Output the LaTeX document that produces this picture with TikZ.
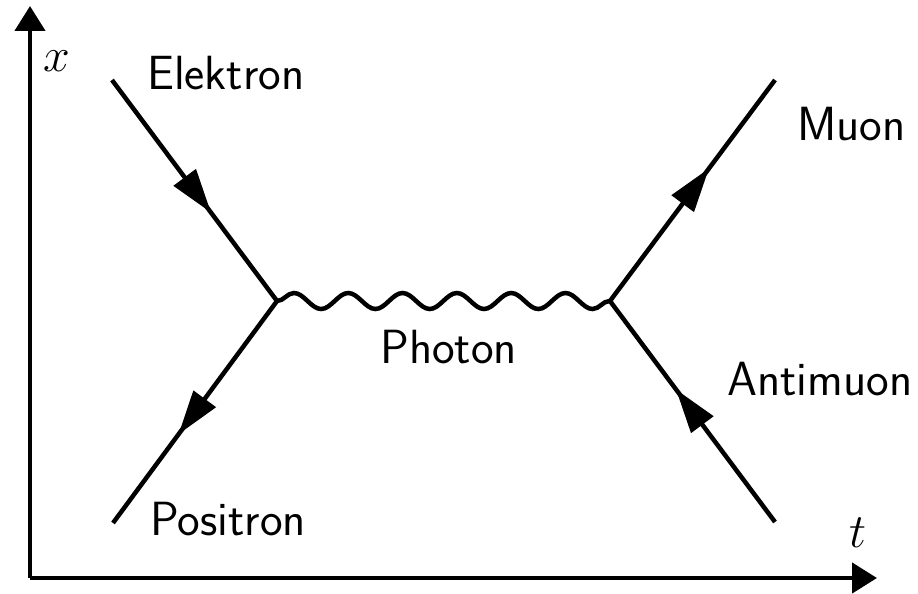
\RequirePackage{fix-cm}
\documentclass[tikz,border=0pt]{standalone}
\usetikzlibrary{arrows.meta,decorations.markings,decorations.pathmorphing}
\begin{document}
\begin{tikzpicture}[x=1pt,y=-1pt,line width=4.5pt, every node/.style={font=\fontsize{48}{52}\selectfont\sffamily,inner sep=0pt}, fermion/.style={postaction={decorate},decoration={markings,mark=at position 0.6 with {\arrow{Triangle[length=44pt,width=27pt]}}}}, photon/.style={decorate,decoration={snake,segment length=54.3pt,amplitude=8pt}}, axis/.style={-{Triangle[length=25pt,width=30pt]}}]
\useasboundingbox (0,0) rectangle (918,594);
% axes
\coordinate (origin) at (30,578);
\coordinate (xtop) at (30,6);
\coordinate (tend) at (877,578);
\draw[axis] (origin)--(xtop);\draw[axis] (origin)--(tend);
\node (xlab) at (57,61) {$x$};
\node (tlab) at (858,533) {$t$};
% vertices and outer points
\coordinate (va) at (277,301);
\coordinate (vb) at (610,301);
\coordinate (ein) at (112,80);
\coordinate (pout) at (113,523);
\coordinate (mout) at (775,80);
\coordinate (ain) at (775,522);
\draw[fermion] (ein)--(va);\draw[fermion] (va)--(pout);\draw[fermion] (vb)--(mout);\draw[fermion] (ain)--(vb);
\draw[photon] (va)--(vb);
% labels
\node[anchor=base west] (elek) at (145,89) {Elektron};
\node[anchor=base west] (posi) at (148,535) {Positron};
\node[anchor=base west] (muon) at (795,140) {Muon};
\node[anchor=base west] (amuon) at (725,395) {Antimuon};
\node[anchor=base west] (phot) at (378,363) {Photon};
\end{tikzpicture}
\end{document}
